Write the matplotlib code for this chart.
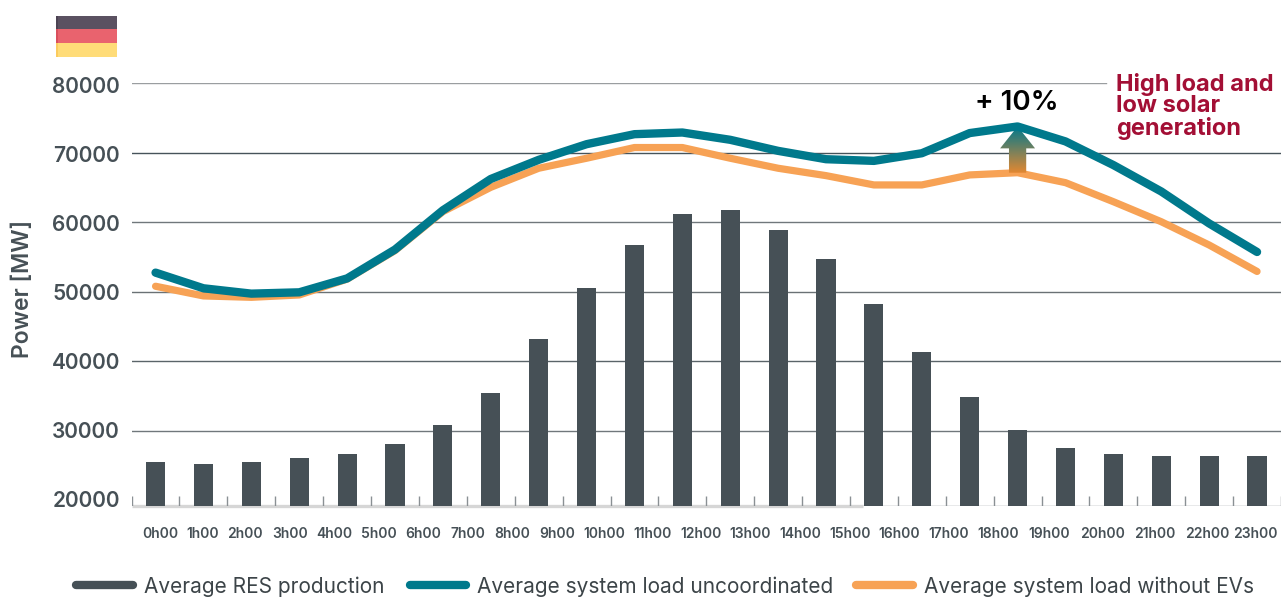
import numpy as np
import matplotlib.pyplot as plt
from matplotlib.lines import Line2D
from matplotlib.patches import Polygon

plt.rcParams['font.family'] = ['Inter', 'DejaVu Sans']

W, H = 1284, 604

hours = [f'{h}h00' for h in range(24)]

# Average values per hour, in MW
res_production = [25540, 25260, 25540, 26120, 26650, 28080, 30860, 35370,
                  43180, 50460, 56640, 61100, 61670, 58850, 54680, 48210,
                  41260, 34790, 30050, 27510, 26650, 26410, 26410, 26410]
load_uncoordinated = [52730, 50480, 49710, 49900, 51900, 56050, 61700, 66200,
                      68950, 71200, 72640, 72880, 71830, 70240, 69040, 68800,
                      69900, 72800, 73750, 71600, 68200, 64400, 59800, 55700]
load_without_evs = [50770, 49380, 49180, 49520, 51800, 55900, 61500, 65000,
                    67740, 69180, 70720, 70720, 69180, 67740, 66680, 65340,
                    65340, 66780, 67100, 65670, 62930, 60050, 56700, 52900]

y_ticks = [20000, 30000, 40000, 50000, 60000, 70000, 80000]
grid_values = [30000, 40000, 50000, 60000, 70000, 80000]
grid_colors = ['#70777b', '#5a6469', '#6a7175', '#70777b', '#46535a', '#9a9ea0']

legend_labels = ['Average RES production', 'Average system load uncoordinated',
                 'Average system load without EVs']

slate = '#465056'
teal = '#00798c'
orange = '#f7a255'
crimson = '#a30f35'

# centres of the hour labels, in pixels
label_x = [160, 203, 245, 290, 334, 379, 423, 467.6, 512, 557, 604, 652.5,
           701, 750, 800, 850, 899, 949, 998.6, 1049, 1103, 1155, 1207, 1255]


def px(x, y):
    return x / W, 1 - y / H


fig = plt.figure(figsize=(W / 100, H / 100), dpi=100)
ax = fig.add_axes([131.6 / W, 1 - 506 / H, (1281 - 131.6) / W, (506 - 83) / H])
ax.patch.set_alpha(0)
for s in ax.spines.values():
    s.set_visible(False)

X = np.arange(24)

# Grid, the top line stops before the annotation
for val, clr in zip(grid_values, grid_colors):
    xmax = (1106 - 131.6) / (1281 - 131.6) if val == 80000 else 1
    ax.axhline(val, xmax=xmax, color=clr, linewidth=1.0, zorder=1)

# Baseline and ticks between the bars
ax.axhline(19190, color='#8a9094', linewidth=1.0, zorder=1)
ax.plot([-0.5, 14.77], [19120, 19120], color='#d6d6d6', linewidth=2.4, zorder=1.5,
        solid_capstyle='butt', clip_on=False)
ax.vlines(np.arange(25) - 0.5, 19170, 20600, color='#8a9094', linewidth=1.0, zorder=1.6)

ax.bar(X, res_production, width=0.4, color=slate, zorder=2)

ax.plot(X, load_without_evs, color=orange, linewidth=5.2, zorder=3,
        solid_capstyle='round', solid_joinstyle='round')
ax.plot(X, load_uncoordinated, color=teal, linewidth=6.0, zorder=4,
        solid_capstyle='round', solid_joinstyle='round')

# Arrow with a gradient from the lower curve up to the higher one
arrow_x = 18
arrow_low = load_without_evs[arrow_x]
arrow_high = load_uncoordinated[arrow_x]
head_base = 70600
outline = [(arrow_x - 0.18, arrow_low), (arrow_x + 0.18, arrow_low),
           (arrow_x + 0.18, head_base), (arrow_x + 0.365, head_base),
           (arrow_x, arrow_high), (arrow_x - 0.365, head_base),
           (arrow_x - 0.18, head_base)]
top = np.array([0, 121, 140]) / 255
bottom = np.array([226, 136, 50]) / 255
t = np.linspace(0, 1, 64)[:, None]
grad = (top * (1 - t) + bottom * t)[:, None, :]
im = ax.imshow(grad, extent=(arrow_x - 0.4, arrow_x + 0.4, arrow_low, arrow_high),
               aspect='auto', zorder=3.5)
im.set_clip_path(Polygon(outline, transform=ax.transData))

ax.set_xlim(-0.5, 23.5)
ax.set_ylim(19170, 80000)
ax.set_xticks([])
ax.set_yticks([])

# Axis texts
for val in y_ticks:
    tx, ty = px(120, 87 + (80000 - val) / 10000 * 69)
    fig.text(tx, ty, str(val), ha='right', va='center', fontsize=15,
             fontweight='semibold', color=slate)

tx, ty = px(23, 289)
fig.text(tx, ty, 'Power [MW]', rotation=90, ha='center', va='center',
         fontsize=16.5, fontweight='semibold', color=slate)

for x, lab in zip(label_x, hours):
    tx, ty = px(x, 534)
    fig.text(tx, ty, lab, ha='center', va='center', fontsize=10,
             fontweight='semibold', color=slate)

# Annotations
tx, ty = px(1017, 103)
fig.text(tx, ty, '+ 10%', ha='center', va='center', fontsize=20,
         fontweight='semibold', color='black')
for line, y in zip(['High load and', 'low solar', 'generation'], [84, 106, 128]):
    tx, ty = px(1116, y)
    fig.text(tx, ty, line, ha='left', va='center', fontsize=17,
             fontweight='bold', color=crimson)

# Legend
entries = zip(legend_labels, [slate, teal, orange], [72, 406, 852], [137, 470, 917])
for lab, clr, x0, x1 in entries:
    ax0, ay = px(x0 + 4, 585)
    ax1, _ = px(x1 - 4, 585)
    fig.add_artist(Line2D([ax0, ax1], [ay, ay], color=clr, linewidth=6.0,
                          solid_capstyle='round'))
    tx, ty = px(x1 + 7, 587)
    fig.text(tx, ty, lab, ha='left', va='center', fontsize=15, color='#3c4448')

# Flag in the top left corner, three bands with a darker left edge
for y0, clr, edge in [(16, '#5b5161', '#4c4353'), (29.5, '#e9636e', '#d94f5c'),
                      (43, '#ffdc78', '#fbcb5e')]:
    fx, fy = px(56, y0 + 13.5)
    fig.add_artist(plt.Rectangle((fx, fy), 61 / W, 13.5 / H, color=clr,
                                 transform=fig.transFigure, linewidth=0))
    fig.add_artist(plt.Rectangle((fx, fy), 2 / W, 13.5 / H, color=edge,
                                 transform=fig.transFigure, linewidth=0))

plt.savefig('out.png', dpi=100)
